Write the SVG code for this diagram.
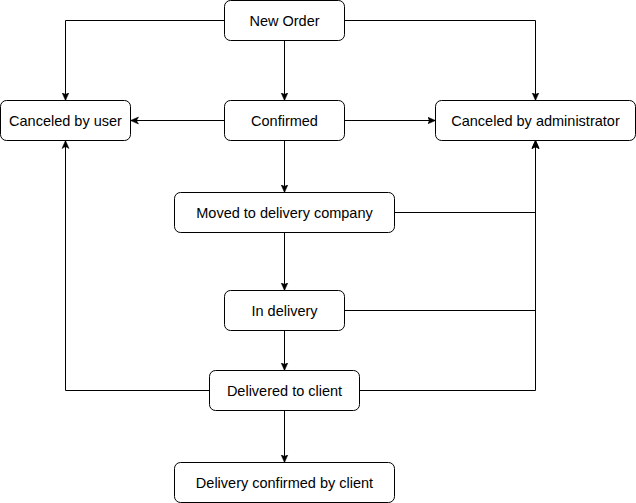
<svg xmlns="http://www.w3.org/2000/svg" width="636" height="503" viewBox="0 0 636 503">
<style>
.n rect{fill:#fff;stroke:#000;stroke-width:1}
.n text{font-family:"Liberation Sans",Arial,sans-serif;font-size:14.5px;fill:#000;text-anchor:middle;dominant-baseline:central}
.e path{fill:none;stroke:#000;stroke-width:1}
</style>
<defs>
<marker id="a" markerUnits="userSpaceOnUse" markerWidth="10" markerHeight="10" viewBox="0 0 10 10" refX="8" refY="5" orient="auto">
<path d="M0,1.5 L8,5 L0,8.5 L2,5 Z" fill="#000" stroke="#000" stroke-width="0.5"/>
</marker>
</defs>
<rect width="636" height="503" fill="#fff"/>
<g id="connectors" class="e">
<path d="M224.5,20.5 H65.5 V100.5" marker-end="url(#a)"/>
<path d="M284.5,40.5 V100.5" marker-end="url(#a)"/>
<path d="M344.5,20.5 H535.5 V100.5" marker-end="url(#a)"/>
<path d="M224.5,120.5 H130.5" marker-end="url(#a)"/>
<path d="M344.5,120.5 H435.5" marker-end="url(#a)"/>
<path d="M284.5,140.5 V192.5" marker-end="url(#a)"/>
<path d="M394.5,212.5 H535.5 V140.5" marker-end="url(#a)"/>
<path d="M284.5,232.5 V290.5" marker-end="url(#a)"/>
<path d="M344.5,310.5 H535.5 V140.5" marker-end="url(#a)"/>
<path d="M284.5,330.5 V370.5" marker-end="url(#a)"/>
<path d="M209.5,390.5 H65.5 V140.5" marker-end="url(#a)"/>
<path d="M359.5,390.5 H535.5 V140.5" marker-end="url(#a)"/>
<path d="M284.5,410.5 V462.5" marker-end="url(#a)"/>
</g>
<g id="new-order" class="n"><rect x="224.5" y="0.5" width="120" height="40" rx="6"/><text x="284.5" y="20.5">New Order</text></g>
<g id="canceled-user" class="n"><rect x="0.5" y="100.5" width="130" height="40" rx="6"/><text x="65.5" y="120.5">Canceled by user</text></g>
<g id="confirmed" class="n"><rect x="224.5" y="100.5" width="120" height="40" rx="6"/><text x="284.5" y="120.5">Confirmed</text></g>
<g id="canceled-admin" class="n"><rect x="435.5" y="100.5" width="200" height="40" rx="6"/><text x="535.5" y="120.5">Canceled by administrator</text></g>
<g id="moved" class="n"><rect x="174.5" y="192.5" width="220" height="40" rx="6"/><text x="284.5" y="212.5">Moved to delivery company</text></g>
<g id="in-delivery" class="n"><rect x="224.5" y="290.5" width="120" height="40" rx="6"/><text x="284.5" y="310.5">In delivery</text></g>
<g id="delivered" class="n"><rect x="209.5" y="370.5" width="150" height="40" rx="6"/><text x="284.5" y="390.5">Delivered to client</text></g>
<g id="confirmed-client" class="n"><rect x="174.5" y="462.5" width="220" height="40" rx="6"/><text x="284.5" y="482.5">Delivery confirmed by client</text></g>
</svg>
